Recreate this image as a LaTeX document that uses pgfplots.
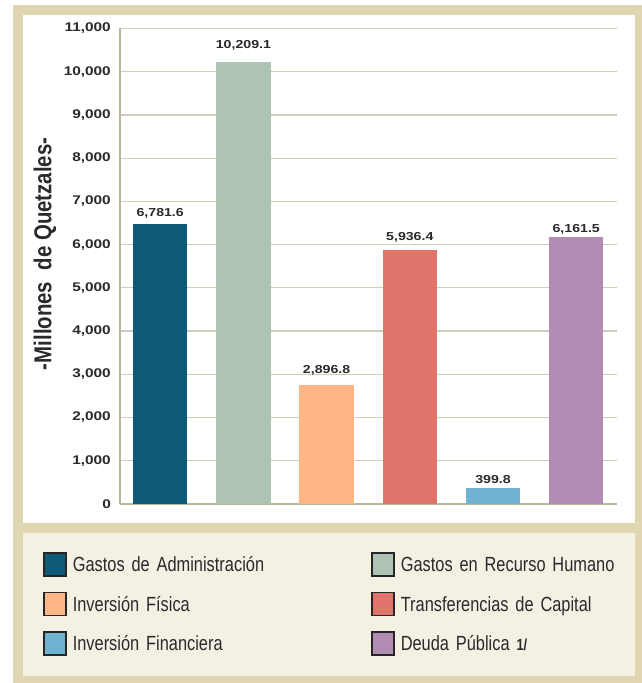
\documentclass[border=0pt]{standalone}
\usepackage{pgfplots}
\pgfplotsset{compat=1.18}
\usepackage{fontspec}
\setmainfont{Liberation Sans}
\newfontfamily\numfont[FakeStretch=1.22]{Liberation Sans}
\newfontfamily\legfont[FakeStretch=0.8]{Liberation Sans}
\definecolor{cA}{HTML}{0E5B78}
\definecolor{cB}{HTML}{ADC3B3}
\definecolor{cC}{HTML}{FFB585}
\definecolor{cD}{HTML}{E0736A}
\definecolor{cE}{HTML}{70B2CF}
\definecolor{cF}{HTML}{B28CB2}
\definecolor{tanc}{HTML}{E0D6B2}
\definecolor{creamc}{HTML}{F4F1E4}
\definecolor{gridc}{HTML}{D2CCBC}
\definecolor{axisc}{HTML}{BCB4A0}
\definecolor{txt}{HTML}{2A2A2A}
\definecolor{legborder}{HTML}{262626}
\begin{document}
\begin{tikzpicture}
\useasboundingbox (0bp,0bp) rectangle (642bp,683bp);
\fill[white] (0bp,0bp) rectangle (642bp,683bp);
\fill[tanc] (12.7bp,0bp) rectangle (642bp,678bp);
\fill[white] (22.7bp,160bp) rectangle (635bp,668bp);
\fill[creamc] (22.7bp,7bp) rectangle (635bp,150bp);
\begin{axis}[
  at={(120bp,179bp)}, anchor=south west,
  scale only axis, width=497bp, height=475.5bp,
  xmin=-0.483, xmax=5.49, ymin=0, ymax=11000,
  axis x line*=bottom, axis y line*=left,
  axis line style={draw=axisc, line width=2.5bp, -},
  xtick=\empty, ytick={0,1000,...,11000},
  major tick length=0pt,
  scaled y ticks=false,
  ymajorgrids, major grid style={draw=gridc, line width=1.2bp},
  yticklabel style={font=\numfont\bfseries\fontsize{12.6bp}{15bp}\selectfont, text=txt, inner sep=0pt, xshift=-9bp, anchor=east,
    /pgf/number format/1000 sep={,}, /pgf/number format/assume math mode=true},
  ylabel={-Millones\ \ de Quetzales-},
  ylabel style={at={(axis description cs:-0.151,0.526)}, anchor=center, font=\bfseries\fontsize{20.4bp}{24bp}\selectfont, text=txt, yscale=1.2},
  clip=false,
  legend columns=2,
  legend cell align=left,
  legend style={draw=none, fill=none, at={(axis description cs:-0.1544,-0.1011)}, anchor=north west,
    inner sep=0pt, outer sep=0pt, column sep=0pt, row sep=14.75bp,
    font=\legfont\fontsize{20.5bp}{24bp}\selectfont, text=txt,
    nodes={text width=292.5bp, inner xsep=6bp, inner ysep=0pt, text height=15bp, text depth=5bp}},
  legend image code/.code={\draw[#1, draw=legborder, line width=1.5bp] (0bp,-9bp) rectangle (22bp,14bp);},
]
\addplot[ybar, bar shift=0pt, bar width=0.655, fill=cA, draw=none] coordinates {(0,6480)};
\addlegendentry{Gastos de Administración}
\addplot[ybar, bar shift=0pt, bar width=0.655, fill=cB, draw=none] coordinates {(1,10220)};
\addlegendentry{Gastos en Recurso Humano}
\addplot[ybar, bar shift=0pt, bar width=0.655, fill=cC, draw=none] coordinates {(2,2760)};
\addlegendentry{Inversión Física}
\addplot[ybar, bar shift=0pt, bar width=0.655, fill=cD, draw=none] coordinates {(3,5875)};
\addlegendentry{Transferencias de Capital}
\addplot[ybar, bar shift=0pt, bar width=0.655, fill=cE, draw=none] coordinates {(4,365)};
\addlegendentry{Inversión Financiera}
\addplot[ybar, bar shift=0pt, bar width=0.655, fill=cF, draw=none] coordinates {(5,6170)};
\addlegendentry{Deuda Pública {\fontsize{16bp}{20bp}\selectfont\bfseries 1/}}
\addplot[forget plot, draw=none, mark=none, nodes near coords, point meta=explicit symbolic,
  nodes near coords style={anchor=base, inner sep=0pt, font=\numfont\bfseries\fontsize{11.6bp}{14bp}\selectfont, text=txt}]
  coordinates {(0,6646) [6,781.6] (1,10541) [10,209.1] (2,3023) [2,896.8] (3,6107) [5,936.4] (4,463) [399.8] (5,6276) [6,161.5]};
\end{axis}
\end{tikzpicture}
\end{document}
